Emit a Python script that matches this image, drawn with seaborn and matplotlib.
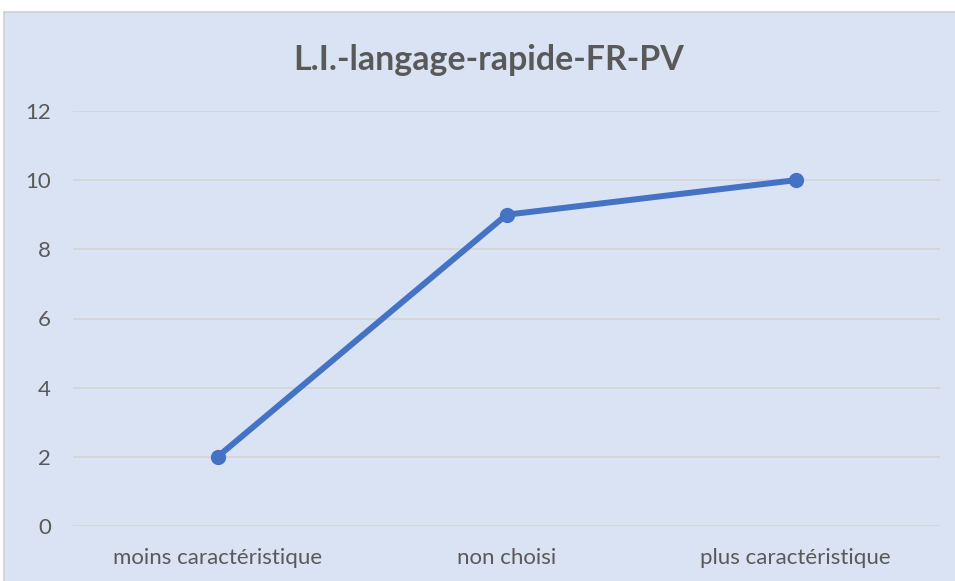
import matplotlib
matplotlib.use("Agg")
import matplotlib.pyplot as plt
from matplotlib.patches import Rectangle
import seaborn as sns
import pandas as pd

categories = ["moins caractéristique", "non choisi", "plus caractéristique"]
values = [2, 9, 10]
title = "L.I.-langage-rapide-FR-PV"

sns.set_theme(style="white")
plt.rcParams["font.family"] = ["Lato", "DejaVu Sans"]

bg = "#DAE3F3"
text_col = "#595959"
grid_col = "#D4D4D4"
line_col = "#4472C4"

fig = plt.figure(figsize=(9.55, 5.81), dpi=100)
fig.patch.set_facecolor("white")
# chart area panel (runs off the right and bottom edges)
fig.add_artist(Rectangle((4 / 955, -0.05), 1.1, 1.05 - 12 / 581,
                         transform=fig.transFigure, facecolor=bg,
                         edgecolor="#D0D0D0", linewidth=1.2, zorder=0))

ax = fig.add_axes([73 / 955, 55 / 581, (940 - 73) / 955, (526 - 111) / 581])
ax.set_facecolor("none")

df = pd.DataFrame({"cat": categories, "val": values})
sns.lineplot(data=df, x="cat", y="val", ax=ax, sort=False, color=line_col,
             linewidth=4.3, marker="o", markersize=11, markeredgewidth=0,
             zorder=3)

ax.set_xlim(-0.5, 2.5)
ax.set_ylim(0, 12)
ax.set_yticks(range(0, 13, 2))
ax.yaxis.grid(True, color=grid_col, linewidth=1.2)
ax.set_axisbelow(True)
for s in ax.spines.values():
    s.set_visible(False)
ax.tick_params(axis="both", length=0, labelsize=16, colors=text_col)
ax.tick_params(axis="y", pad=16)
ax.tick_params(axis="x", pad=16)
ax.set_xlabel("")
ax.set_ylabel("")

fig.text(489 / 955, 1 - 60 / 581, title, ha="center", va="center",
         fontsize=24.4, fontweight="bold", color=text_col)

fig.savefig("out.png", dpi=100, facecolor=fig.get_facecolor())
